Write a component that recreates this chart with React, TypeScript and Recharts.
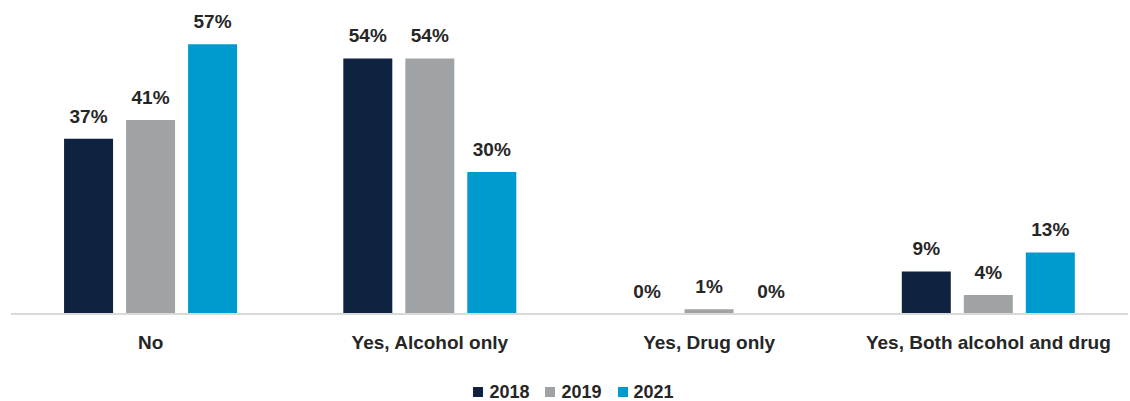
import { Bar, BarChart, LabelList, Legend, XAxis, YAxis } from 'recharts';

const CATEGORIES = ['No', 'Yes, Alcohol only', 'Yes, Drug only', 'Yes, Both alcohol and drug'];
const Y2018 = [37, 54, 0, 9];
const Y2019 = [41, 54, 1, 4];
const Y2021 = [57, 30, 0, 13];

const SERIES = [
  { key: 'y2018', name: '2018', color: '#0f2340' },
  { key: 'y2019', name: '2019', color: '#a0a3a5' },
  { key: 'y2021', name: '2021', color: '#009bce' },
];

const data = CATEGORIES.map((name, i) => ({
  name,
  y2018: Y2018[i],
  y2019: Y2019[i],
  y2021: Y2021[i],
}));

const FONT = '"Liberation Sans", Arial, sans-serif';

function LegendContent() {
  return (
    <div style={{ height: 30, display: 'flex', justifyContent: 'center', alignItems: 'center', paddingTop: 12, paddingLeft: 8, boxSizing: 'border-box', fontFamily: FONT, fontWeight: 700, fontSize: 18, color: '#262626' }}>
      {SERIES.map((s) => (
        <span key={s.key} style={{ display: 'flex', alignItems: 'center', margin: '0 8px' }}>
          <span style={{ display: 'inline-block', width: 10, height: 10, background: s.color, marginRight: 6 }} />
          {s.name}
        </span>
      ))}
    </div>
  );
}

// zero-valued bars get a sub-pixel height so their labels still render
const keepZero = (v: unknown) => (v === 0 ? 0.001 : 0);

export default function App() {
  return (
    <div style={{ position: 'absolute', left: 0, top: 0, background: '#fff' }}>
      <BarChart
        width={1130}
        height={401}
        data={data}
        margin={{ top: 30, right: 2, left: 11, bottom: 0 }}
        barCategoryGap="19%"
        barGap={13}
      >
        <XAxis
          dataKey="name"
          height={57}
          tickLine={false}
          axisLine={{ stroke: '#d9d9d9', strokeWidth: 2 }}
          tickMargin={16}
          tick={{ fill: '#262626', fontSize: 19, fontWeight: 700, fontFamily: FONT }}
        />
        <YAxis hide domain={[0, 60]} />
        <Legend verticalAlign="bottom" content={<LegendContent />} />
        {SERIES.map((s) => (
          <Bar key={s.key} dataKey={s.key} name={s.name} fill={s.color} minPointSize={keepZero as any} isAnimationActive={false}>
            <LabelList
              dataKey={s.key}
              position="top"
              offset={16}
              formatter={(v: unknown) => `${v}%`}
              style={{ fill: '#262626', fontSize: 19, fontWeight: 700, fontFamily: FONT }}
            />
          </Bar>
        ))}
      </BarChart>
    </div>
  );
}
